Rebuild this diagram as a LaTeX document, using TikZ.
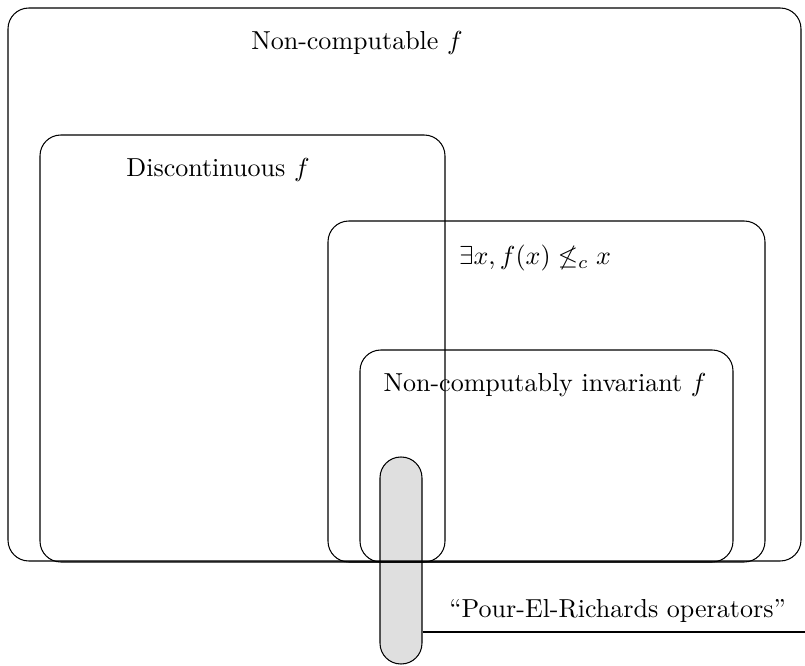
\documentclass[tikz,border=0pt]{standalone}
\usetikzlibrary{positioning, fit, calc}

\begin{document}
\begin{tikzpicture}[
        x = 0.0135cm,
        y = -0.0135cm,
        setbox/.style = {
            draw,
            rectangle,
            rounded corners = 8pt,
            inner sep = 0pt
        },
        pillbox/.style = {
            draw,
            rectangle,
            rounded corners = 8pt,
            inner sep = 0pt,
            fill = gray!25
        },
        every node/.style = {font=\normalsize}
    ]

        \useasboundingbox (0,0) rectangle (805,666);

        % the highlighted class sits below the other sets
        \node[pillbox, fit={(380,457) (422,664)}] (pourel) {};

        \node[setbox, fit={(8,8) (801,561)}] (noncomp) {};
        \node[setbox, fit={(40,135) (445,562)}] (discont) {};
        \node[setbox, fit={(328,221) (765,562)}] (notleq) {};
        \node[setbox, fit={(360,350) (733,562)}] (invar) {};

        \node at (357,43) {Non-computable $f$};
        \node at (218,170) {Discontinuous $f$};
        \node at (535,258) {$\exists x, f(x) \not\leq_c x$};
        \node at (545,385) {Non-computably invariant $f$};

        \coordinate (lblend) at (805,632);
        \draw (pourel.east |- lblend) --
            node[above, pos=0.51] {``Pour-El-Richards operators''}
            (lblend);

    \end{tikzpicture}
\end{document}
